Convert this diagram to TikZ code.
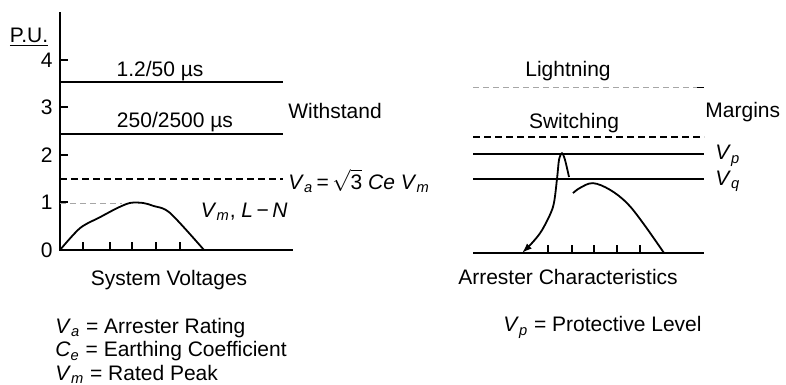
\documentclass[tikz,border=0pt]{standalone}
\usepackage{fontspec}
\setmainfont{Liberation Sans}
\usetikzlibrary{arrows.meta}
\newcommand{\sym}[2]{\textit{#1}\textsubscript{\textit{#2}}}

\begin{document}
\begin{tikzpicture}[
            x=0.5pt, y=23.75pt,
            axis/.style={line width=1pt, draw=black},
            level/.style={line width=1pt, draw=black},
            margin/.style={line width=1pt, draw=black, dash pattern=on 3.5pt off 2pt},
            guide/.style={line width=.4pt, draw=black!35, dash pattern=on 3pt off 2pt},
            trace/.style={line width=.9pt, draw=black},
            lbl/.style={font=\fontsize{10.5}{12}\selectfont, inner sep=0pt},
        ]
            \useasboundingbox (-60,-2.842) rectangle (726,5.263);

            % system voltages: axes in per unit
            \draw[axis] (0,5.01) -- (0,0) -- (233,0);
            \foreach \v in {1,...,4}{
                \draw[axis] (0,\v) -- (8,\v);
            }
            \foreach \v in {0,...,4}{
                \node[lbl, anchor=east] (pu\v) at (-7,\v) {\v};
            }
            \foreach \t in {23,50,72,96,120}{
                \draw[axis] (\t,0) -- (\t,0.17);
            }
            \node[lbl, anchor=base] (pu) at (-31,4.36) {\underline{P.U.}};

            % withstand levels and rating
            \draw[level] (0,3.54) -- (223,3.54);
            \draw[level] (0,2.44) -- (223,2.44);
            \draw[margin] (0,1.49) -- (223,1.49);
            \draw[guide] (0,0.99) -- (62,0.99);
            \draw[trace] plot[smooth, tension=.5] coordinates {(0,0) (20,0.46) (40,0.69) (57,0.88) (70,0.99) (83,0.99) (93,0.93) (110,0.78) (144,0)};

            \node[lbl, anchor=base] (imp) at (100,3.66) {1.2/50 µs};
            \node[lbl, anchor=base] (swi) at (115,2.57) {250/2500 µs};
            \node[lbl, anchor=base west] (wst) at (228,2.76) {Withstand};
            \node[lbl, anchor=base west] (rate) at (228,1.28) {\sym{V}{a}\,=\,$\sqrt{\mbox{3}}$ \textit{Ce} \sym{V}{m}};
            \node[lbl, anchor=base east] (peak) at (228,0.69) {\sym{V}{m}, \textit{L}\,−\,\textit{N}};
            \node[lbl, anchor=base] (sys) at (109,-0.74) {System Voltages};

            % legend
            \node[lbl, anchor=base west] (leg1) at (-5,-1.75) {\sym{V}{a} = Arrester Rating};
            \node[lbl, anchor=base west] (leg2) at (-5,-2.25) {\sym{C}{e} = Earthing Coefficient};
            \node[lbl, anchor=base west] (leg3) at (-5,-2.74) {\sym{V}{m} = Rated Peak};

            % arrester characteristics
            \begin{scope}[shift={(413,-0.063)}]
                \draw[guide] (0,3.49) -- (224,3.49);
                \draw[line width=.6pt] (224,3.49) -- (231,3.49);
                \draw[margin] (0,2.44) -- (231,2.44);
                \draw[level] (0,2.08) -- (231,2.08);
                \draw[level] (0,1.56) -- (231,1.56);
                \draw[axis] (0,0) -- (231,0);
                \foreach \t in {75,99,121,144,167}{
                    \draw[axis] (\t,0) -- (\t,0.17);
                }
                \draw[trace, -{Latex[length=5pt, width=3.5pt]}] plot[smooth, tension=.5] coordinates {(96,1.6) (92,1.96) (89,2.1) (86,1.96) (84,1.56) (80,0.97) (69,0.48) (59,0.21) (49,0)};
                \draw[trace] plot[smooth, tension=.6] coordinates {(100,1.26) (107,1.37) (120,1.47) (137,1.33) (154,1.05) (170,0.63) (191,0)};

                \node[lbl, anchor=base] (lgt) at (95,3.71) {Lightning};
                \node[lbl, anchor=base] (swt) at (101,2.63) {Switching};
                \node[lbl, anchor=base west] (mrg) at (232,2.86) {Margins};
                \node[lbl, anchor=base west] (vp) at (242,1.96) {\sym{V}{p}};
                \node[lbl, anchor=base west] (vq) at (242,1.43) {\sym{V}{q}};
                \node[lbl, anchor=base] (arr) at (95,-0.67) {Arrester Characteristics};
                \node[lbl, anchor=base west] (prot) at (30,-1.66) {\sym{V}{p} = Protective Level};
            \end{scope}
        \end{tikzpicture}
\end{document}
